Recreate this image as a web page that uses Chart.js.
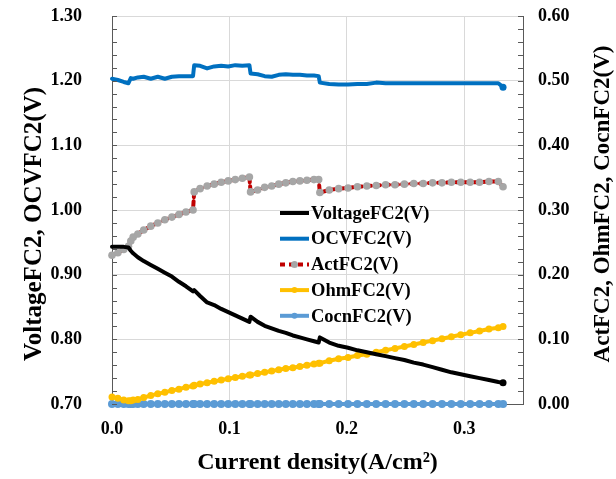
<!DOCTYPE html>
<html>
<head>
<meta charset="utf-8">
<script src="https://cdn.jsdelivr.net/npm/chart.js@4.4.1/dist/chart.umd.min.js"></script>
<style>
	html, body { margin: 0; padding: 0; background: #fff; }
	#wrap { width: 616px; height: 479px; position: relative; }
</style>
</head>
<body>
<div id="wrap"><canvas id="fcChart"></canvas></div>
<script>
// current density (A/cm2) shared by all series
const currentDensity = [0, 0.005, 0.010, 0.014, 0.016, 0.018, 0.022, 0.027, 0.033, 0.039,
	0.045, 0.051, 0.057, 0.063, 0.069, 0.070, 0.075, 0.081, 0.087, 0.093,
	0.099, 0.105, 0.111, 0.117, 0.118, 0.124, 0.130, 0.136, 0.142, 0.148,
	0.154, 0.160, 0.166, 0.172, 0.176, 0.177, 0.185, 0.193, 0.201, 0.209,
	0.217, 0.225, 0.233, 0.241, 0.249, 0.257, 0.265, 0.273, 0.281, 0.289,
	0.297, 0.305, 0.313, 0.321, 0.329, 0.333]

// left axis series
const voltageFC2 = [0.943, 0.943, 0.943, 0.942, 0.937, 0.933, 0.927, 0.921, 0.915, 0.909,
	0.903, 0.897, 0.889, 0.882, 0.874, 0.876, 0.867, 0.857, 0.853, 0.847,
	0.842, 0.837, 0.832, 0.827, 0.835, 0.827, 0.821, 0.817, 0.813, 0.810,
	0.806, 0.803, 0.800, 0.797, 0.795, 0.803, 0.795, 0.790, 0.787, 0.783,
	0.780, 0.777, 0.774, 0.771, 0.768, 0.764, 0.761, 0.757, 0.753, 0.749,
	0.746, 0.743, 0.740, 0.737, 0.734, 0.733]
const ocvFC2 = [1.203, 1.201, 1.198, 1.196, 1.204, 1.203, 1.205, 1.206, 1.203, 1.206,
	1.203, 1.206, 1.207, 1.207, 1.207, 1.224, 1.223, 1.219, 1.222, 1.223,
	1.222, 1.224, 1.223, 1.224, 1.211, 1.210, 1.207, 1.206, 1.209, 1.210,
	1.209, 1.209, 1.208, 1.208, 1.207, 1.197, 1.195, 1.194, 1.194, 1.195,
	1.195, 1.197, 1.196, 1.196, 1.196, 1.196, 1.196, 1.196, 1.196, 1.196,
	1.196, 1.196, 1.196, 1.196, 1.196, 1.190]

// right axis series (losses)
const actFC2 = [0.230, 0.234, 0.239, 0.244, 0.252, 0.258, 0.263, 0.269, 0.275, 0.280,
	0.285, 0.289, 0.293, 0.297, 0.300, 0.328, 0.333, 0.337, 0.340, 0.343,
	0.345, 0.347, 0.349, 0.351, 0.328, 0.331, 0.335, 0.337, 0.340, 0.342,
	0.344, 0.345, 0.346, 0.347, 0.347, 0.327, 0.331, 0.333, 0.334, 0.336,
	0.337, 0.338, 0.339, 0.339, 0.340, 0.341, 0.341, 0.342, 0.342, 0.343,
	0.343, 0.343, 0.343, 0.344, 0.344, 0.336]
const ohmFC2 = [0.011, 0.009, 0.006, 0.005, 0.005, 0.006, 0.007, 0.010, 0.013, 0.016,
	0.018, 0.021, 0.023, 0.026, 0.028, 0.029, 0.031, 0.033, 0.035, 0.037,
	0.039, 0.041, 0.043, 0.045, 0.045, 0.047, 0.049, 0.051, 0.053, 0.055,
	0.056, 0.058, 0.060, 0.062, 0.063, 0.063, 0.067, 0.070, 0.072, 0.075,
	0.077, 0.080, 0.083, 0.086, 0.089, 0.092, 0.095, 0.098, 0.101, 0.104,
	0.107, 0.110, 0.113, 0.116, 0.118, 0.120]
const cocnFC2 = [0, 0, 0, 0, 0, 0, 0, 0, 0, 0,
	0, 0, 0, 0, 0, 0, 0, 0, 0, 0,
	0, 0, 0, 0, 0, 0, 0, 0, 0, 0,
	0, 0, 0, 0, 0, 0, 0, 0, 0, 0,
	0, 0, 0, 0, 0, 0, 0, 0, 0, 0,
	0, 0, 0, 0, 0, 0]

const seriesLabels = ['VoltageFC2(V)', 'OCVFC2(V)', 'ActFC2(V)', 'OhmFC2(V)', 'CocnFC2(V)']
const xTicks = [0, 0.1, 0.2, 0.3]
const leftTicks = [0.7, 0.8, 0.9, 1.0, 1.1, 1.2, 1.3]
const rightTicks = [0, 0.1, 0.2, 0.3, 0.4, 0.5, 0.6]
const leftTitle = 'VoltageFC2, OCVFC2(V)'
const rightTitle = 'ActFC2, OhmFC2, CocnFC2(V)'

const serif = '"Liberation Serif", "Times New Roman", serif'
const axisGray = '#595959'
const tickFont = { family: serif, size: 18, weight: 'bold' }

function pts(ys) {
	return currentDensity.map((x, i) => ({ x: x, y: ys[i] }))
}

// keep tick label padding from pushing the plot area down
function fixWidth(w) {
	return (s) => {
		s.width = w
		s.paddingTop = 0
		s.paddingBottom = 0
	}
}

function sideTitle(ctx, text, x, y, size) {
	ctx.save()
	ctx.translate(x, y)
	ctx.rotate(-Math.PI / 2)
	ctx.font = 'bold ' + size + 'px ' + serif
	ctx.fillStyle = '#000'
	ctx.textAlign = 'center'
	ctx.textBaseline = 'middle'
	ctx.fillText(text, 0, 0)
	ctx.restore()
}

// small tick marks on the inside of both value axes, plus the side titles
const innerTicks = {
	id: 'innerTicks',
	afterDraw(chart) {
		const { ctx, chartArea: a, scales } = chart
		const step = 0.02
		ctx.save()
		ctx.strokeStyle = axisGray
		ctx.lineWidth = 1
		ctx.beginPath()
		for (let k = 0; k <= 30; k++) {
			const yl = Math.round(scales.y.getPixelForValue(0.7 + k * step)) + 0.5
			ctx.moveTo(a.left, yl)
			ctx.lineTo(a.left + 5, yl)
			const yr = Math.round(scales.y2.getPixelForValue(k * step)) + 0.5
			ctx.moveTo(a.right - 5, yr)
			ctx.lineTo(a.right, yr)
		}
		ctx.stroke()
		ctx.restore()

		sideTitle(ctx, leftTitle, 35, 224, 25)
		sideTitle(ctx, rightTitle, 603, 204, 23)
	},
}

// legend sits inside the plot area
const innerLegend = {
	id: 'innerLegend',
	afterDatasetsDraw(chart) {
		const { ctx } = chart
		const x0 = 280, x1 = 309, top = 213, rowH = 25.7
		ctx.save()
		ctx.font = 'bold 18.5px ' + serif
		ctx.textBaseline = 'middle'
		ctx.textAlign = 'left'
		chart.data.datasets.forEach((ds, i) => {
			const y = top + i * rowH
			ctx.strokeStyle = ds.borderColor
			ctx.lineWidth = ds.borderWidth
			ctx.setLineDash(ds.borderDash || [])
			ctx.beginPath()
			ctx.moveTo(x0, y)
			ctx.lineTo(x1, y)
			ctx.stroke()
			ctx.setLineDash([])
			if (ds.legendMarker) {
				ctx.fillStyle = ds.pointBackgroundColor
				ctx.beginPath()
				ctx.arc((x0 + x1) / 2, y, ds.legendMarker, 0, Math.PI * 2)
				ctx.fill()
			}
			ctx.fillStyle = '#000'
			ctx.fillText(ds.label, x1 + 2, y + 1)
		})
		ctx.restore()
	},
}

const endDot = currentDensity.map((x, i) => i === currentDensity.length - 1 ? 3.5 : 0)

new Chart(document.getElementById('fcChart'), {
	type: 'line',
	data: {
		datasets: [
			{
				label: seriesLabels[0],
				data: pts(voltageFC2),
				yAxisID: 'y',
				borderColor: '#000000',
				backgroundColor: '#000000',
				pointBackgroundColor: '#000000',
				borderWidth: 4,
				pointRadius: endDot,
				pointBorderWidth: 0,
				clip: false,
				order: 1,
			},
			{
				label: seriesLabels[1],
				data: pts(ocvFC2),
				yAxisID: 'y',
				borderColor: '#0070C0',
				pointBackgroundColor: '#0070C0',
				borderWidth: 4,
				pointRadius: endDot,
				pointBorderWidth: 0,
				clip: false,
				order: 2,
			},
			{
				label: seriesLabels[2],
				data: pts(actFC2),
				yAxisID: 'y2',
				borderColor: '#C00000',
				borderWidth: 4,
				borderDash: [5, 4],
				pointBackgroundColor: '#A6A6A6',
				pointBorderWidth: 0,
				pointRadius: 3.8,
				legendMarker: 3.5,
				clip: false,
				order: 3,
			},
			{
				label: seriesLabels[3],
				data: pts(ohmFC2),
				yAxisID: 'y2',
				borderColor: '#FFC000',
				borderWidth: 4,
				pointBackgroundColor: '#FFC000',
				pointBorderWidth: 0,
				pointRadius: 3.5,
				legendMarker: 3,
				clip: false,
				order: 4,
			},
			{
				label: seriesLabels[4],
				data: pts(cocnFC2),
				yAxisID: 'y2',
				borderColor: '#5B9BD5',
				borderWidth: 4,
				pointBackgroundColor: '#5B9BD5',
				pointBorderWidth: 0,
				pointRadius: 4,
				legendMarker: 3,
				clip: false,
				order: 5,
			},
		],
	},
	options: {
		responsive: true,
		maintainAspectRatio: false,
		animation: false,
		layout: { padding: { top: 16, left: 0, right: 0, bottom: 0 } },
		elements: { line: { tension: 0, borderCapStyle: 'round', borderJoinStyle: 'round' } },
		plugins: {
			legend: { display: false },
			tooltip: { enabled: false },
		},
		scales: {
			x: {
				type: 'linear',
				min: 0,
				max: 0.35,
				afterBuildTicks: (s) => { s.ticks = xTicks.map(v => ({ value: v })) },
				afterFit: (s) => { s.height = 75; s.paddingLeft = 0; s.paddingRight = 0 },
				ticks: {
					padding: 15,
					color: '#000',
					font: tickFont,
					callback: (v) => Number(v).toFixed(1),
				},
				grid: { color: '#D9D9D9', drawTicks: false },
				border: { display: true, color: axisGray, width: 1 },
				title: {
					display: true,
					text: 'Current density(A/cm²)',
					color: '#000',
					font: { family: serif, size: 24, weight: 'bold', lineHeight: 1 },
					padding: { top: 0, bottom: 4 },
				},
			},
			y: {
				position: 'left',
				min: 0.7,
				max: 1.3,
				afterBuildTicks: (s) => { s.ticks = leftTicks.map(v => ({ value: v })) },
				afterFit: fixWidth(112),
				ticks: {
					padding: 30,
					color: '#000',
					font: tickFont,
					callback: (v) => Number(v).toFixed(2),
				},
				grid: { color: '#D9D9D9', drawTicks: false },
				border: { display: true, color: axisGray, width: 1 },
				title: { display: false },
			},
			y2: {
				position: 'right',
				min: 0,
				max: 0.6,
				afterBuildTicks: (s) => { s.ticks = rightTicks.map(v => ({ value: v })) },
				afterFit: fixWidth(93),
				ticks: {
					padding: 15,
					color: '#000',
					font: tickFont,
					callback: (v) => Number(v).toFixed(2),
				},
				grid: { display: false, drawTicks: false },
				border: { display: true, color: axisGray, width: 1 },
				title: { display: false },
			},
		},
	},
	plugins: [innerTicks, innerLegend],
})
</script>
</body>
</html>
